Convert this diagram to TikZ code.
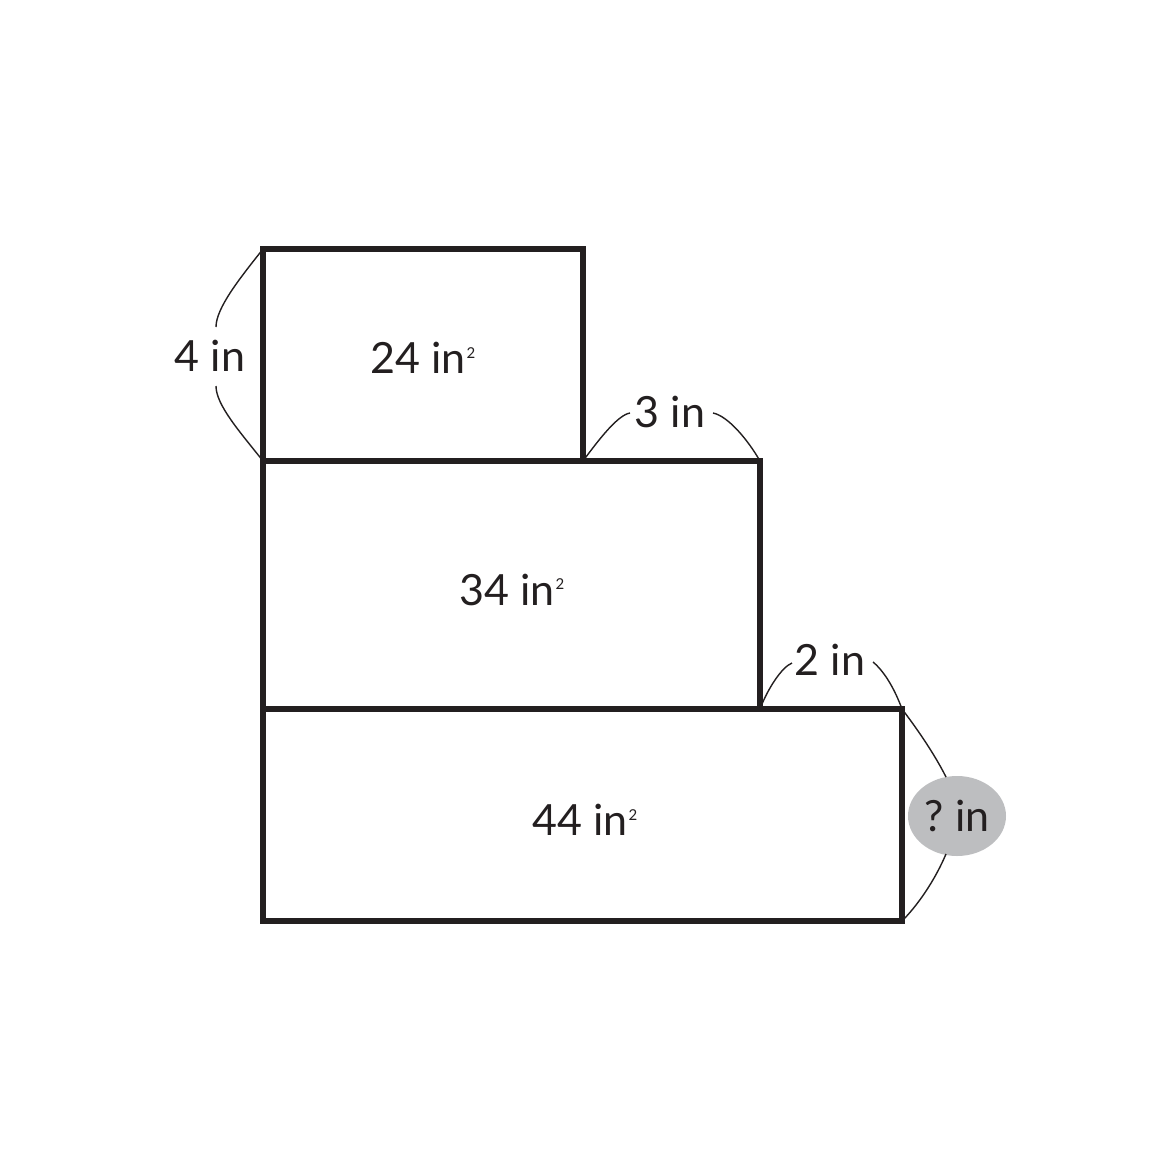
\documentclass[tikz,border=0pt]{standalone}
\usepackage{fontspec}
\setmainfont{Lato}
\usetikzlibrary{shapes.geometric}
\definecolor{ink}{HTML}{231F20}
\definecolor{bubble}{HTML}{BDBEC0}
\newcommand{\sqr}{\kern0.4pt\raisebox{7.8pt}{\fontsize{7.5pt}{7.5pt}\selectfont 2}}
\begin{document}
\begin{tikzpicture}[x=0.5pt,y=-0.5pt,
  box/.style={draw=ink,line width=2.6pt},
  brace/.style={draw=ink,line width=0.7pt},
  lbl/.style={text=ink,font=\fontsize{21.5pt}{25pt}\selectfont,inner sep=0pt}]
\fill[white] (0,0) rectangle (1169,1169);
\useasboundingbox (0,0) rectangle (1169,1169);
% corners
\coordinate (a1) at (263,249);
\coordinate (a2) at (583,461);
\coordinate (b1) at (263,461);
\coordinate (b2) at (760,709);
\coordinate (c1) at (263,709);
\coordinate (c2) at (902,921);
\coordinate (tl) at (263,249);
\coordinate (bl) at (263,461);
\coordinate (mr) at (583,461);
\coordinate (mrr) at (760,461);
\coordinate (br) at (760,709);
\coordinate (brr) at (902,709);
\coordinate (bot) at (902,921);
% rectangles
\draw[box] (a1) rectangle (a2);
\draw[box] (b1) rectangle (b2);
\draw[box] (c1) rectangle (c2);
% labels
\node[lbl] (l4) at (210,356) {4 in};
\node[lbl] (a24) at (423,358) {24 in\sqr};
\node[lbl] (l3) at (670,412) {3 in};
\node[lbl] (a34) at (512,590) {34 in\sqr};
\node[lbl] (l2) at (830,660) {2 in};
\node[lbl] (a44) at (585,820) {44 in\sqr};
\node[ellipse,fill=bubble,minimum width=49pt,minimum height=40pt,inner sep=0pt] (q) at (957,816) {};
\node[lbl] (lq) at (957,816) {?\kern-1.5pt{} in};
% brace ends
\coordinate (e4t) at (216,327);
\coordinate (e4b) at (216,386);
\coordinate (e3l) at (630,413);
\coordinate (e3r) at (713,413);
\coordinate (e2l) at (792,663);
\coordinate (e2r) at (873,662);
\coordinate (eqt) at (946,777);
\coordinate (eqb) at (946,854);
% braces
\draw[brace] (tl) .. controls (240,278) and (216,308) .. (e4t);
\draw[brace] (e4b) .. controls (216,405) and (240,432) .. (bl);
\draw[brace] (mr) .. controls (600,438) and (618,415) .. (e3l);
\draw[brace] (e3r) .. controls (728,416) and (748,440) .. (mrr);
\draw[brace] (br) .. controls (768,688) and (782,667) .. (e2l);
\draw[brace] (e2r) .. controls (885,672) and (895,690) .. (brr);
\draw[brace] (brr) .. controls (918,730) and (935,755) .. (eqt);
\draw[brace] (eqb) .. controls (935,880) and (918,905) .. (bot);
\end{tikzpicture}
\end{document}
